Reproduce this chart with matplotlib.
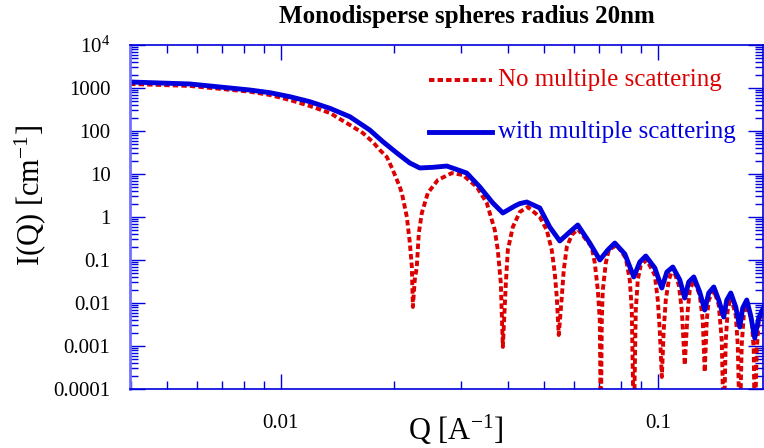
import matplotlib
matplotlib.use('Agg')
import matplotlib.pyplot as plt
from matplotlib.ticker import LogLocator, FixedLocator, FixedFormatter, NullFormatter

plt.rcParams['font.family'] = ['Liberation Serif', 'DejaVu Serif']
plt.rcParams['mathtext.fontset'] = 'custom'
plt.rcParams['mathtext.rm'] = 'Liberation Serif'
plt.rcParams['mathtext.it'] = 'Liberation Serif:italic'

# values
q_single = [0.00398, 0.00574, 0.00827, 0.00935, 0.01056, 0.01194, 0.01349, 0.01524, 0.01650, 0.01754,
            0.01831, 0.01911, 0.01982, 0.02068, 0.02094, 0.02159, 0.02199, 0.02226, 0.02240, 0.02266,
            0.02294, 0.02323, 0.02366, 0.02454, 0.02609, 0.02841, 0.03039, 0.03311, 0.03518, 0.03694,
            0.03763, 0.03833, 0.03881, 0.03953, 0.04001, 0.04125, 0.04305, 0.04519, 0.04864, 0.05075,
            0.05232, 0.05329, 0.05395, 0.05461, 0.05563, 0.05630, 0.05736, 0.05914, 0.06134, 0.06682,
            0.06806, 0.06932, 0.07017, 0.07061, 0.07104, 0.07147, 0.07280, 0.07413, 0.07784, 0.08224,
            0.08427, 0.08531, 0.08636, 0.08742, 0.08850, 0.09014, 0.09350, 0.09817, 0.1000, 0.1012,
            0.1025, 0.1037, 0.1050, 0.1070, 0.1096, 0.1137, 0.1158, 0.1179, 0.1201, 0.1216,
            0.1246, 0.1292, 0.1316, 0.1332, 0.1349, 0.1365, 0.1408, 0.1451, 0.1478, 0.1496,
            0.1515, 0.1533, 0.1562, 0.1610, 0.1630, 0.1650, 0.1670, 0.1691, 0.1722, 0.1775,
            0.1797, 0.1808, 0.1830, 0.1853, 0.1911]
I_single = [1239, 1114, 820, 687, 526, 381, 262, 138, 89.8, 55.4,
            36.1, 24.8, 12.4, 4.99, 3.61, 1.0, 0.248, 0.0687, 0.00808, 0.0343,
            0.0687, 0.425, 1.24, 3.61, 7.25, 10.5, 9.48, 4.99, 2.12, 0.499,
            0.171, 0.0292, 0.00095, 0.0292, 0.171, 0.585, 1.31, 1.71, 1.0, 0.499,
            0.171, 0.0499, 0.0138, 0.0018, 0.0138, 0.0585, 0.200, 0.381, 0.526, 0.200,
            0.0851, 0.02, 0.00403, 1e-5, 0.00403, 0.02, 0.0851, 0.171, 0.223, 0.111,
            0.0343, 0.00687, 1e-5, 0.00687, 0.0343, 0.0765, 0.1, 0.0448, 0.01175, 0.00236,
            0.00019, 0.00236, 0.01175, 0.0343, 0.0652, 0.0262, 0.00687, 0.000361, 0.00687, 0.02,
            0.0343, 0.0153, 0.00403, 0.000248, 0.00403, 0.01175, 0.02, 0.00898, 0.00138, 1e-5,
            0.00138, 0.00687, 0.0138, 0.00526, 0.00105, 1e-5, 0.00105, 0.00526, 0.00898, 0.00403,
            0.000807, 1e-5, 0.000807, 0.00403, 0.00618]

q_multi = [0.00398, 0.00574, 0.00827, 0.00935, 0.01056, 0.01194, 0.01349, 0.01524, 0.01722, 0.01865,
           0.02031, 0.02199, 0.02337, 0.02530, 0.02756, 0.02985, 0.03113, 0.03372, 0.03650, 0.03881,
           0.04175, 0.04305, 0.04493, 0.04864, 0.05168, 0.05495, 0.05841, 0.06134, 0.06601, 0.07017,
           0.07368, 0.07691, 0.08177, 0.08636, 0.08960, 0.09293, 0.0982, 0.1025, 0.1057, 0.1096,
           0.1144, 0.1179, 0.1208, 0.1246, 0.1292, 0.1332, 0.1365, 0.1408, 0.1451, 0.1496,
           0.1524, 0.1562, 0.1610, 0.1650, 0.1680, 0.1722, 0.1765, 0.1808, 0.1853, 0.1911]
I_multi = [1379, 1239, 898, 778, 628, 480, 337, 215, 105, 56.4,
           30.8, 18.0, 13.8, 14.3, 15.3, 12.0, 10.5, 4.99, 2.12, 1.24,
           1.80, 2.05, 2.23, 1.62, 0.585, 0.277, 0.448, 0.652, 0.248, 0.1,
           0.171, 0.248, 0.138, 0.0403, 0.0897, 0.124, 0.0652, 0.0223, 0.0525, 0.0687,
           0.0343, 0.01306, 0.0308, 0.0403, 0.018, 0.00687, 0.0171, 0.0236, 0.0117, 0.00472,
           0.0117, 0.0171, 0.00808, 0.00277, 0.00765, 0.01175, 0.00499, 0.00153, 0.00448, 0.00808]

ytick_vals = [1e-4, 1e-3, 1e-2, 1e-1, 1, 10, 100, 1000, 1e4]
ytick_labels = ['0.0001', '0.001', '0.01', '0.1', '1', '10', '100', '1000', '10$^4$']
xtick_vals = [0.01, 0.1]
xtick_labels = ['0.01', '0.1']

blue = '#0000dd'
red = '#dd0000'

fig = plt.figure(figsize=(7.64, 4.48), dpi=100)
ax = fig.add_axes([0.170, 0.1317, 0.8285, 0.7679])

ax.plot(q_single, I_single, color=red, lw=2.8, linestyle=(0, (1.4, 0.8)), solid_capstyle='butt')
ax.plot(q_multi, I_multi, color=blue, lw=3.5)

ax.set_xscale('log')
ax.set_yscale('log')
ax.set_xlim(0.003976, 0.19)
ax.set_ylim(1e-4, 1e4)

ax.yaxis.set_major_locator(FixedLocator(ytick_vals))
ax.yaxis.set_major_formatter(FixedFormatter(ytick_labels))
ax.yaxis.set_minor_locator(LogLocator(base=10, subs=range(2, 10), numticks=20))
ax.yaxis.set_minor_formatter(NullFormatter())
ax.xaxis.set_major_locator(FixedLocator(xtick_vals))
ax.xaxis.set_major_formatter(FixedFormatter(xtick_labels))
ax.xaxis.set_minor_locator(LogLocator(base=10, subs=range(2, 10), numticks=20))
ax.xaxis.set_minor_formatter(NullFormatter())

ax.tick_params(which='both', direction='in', top=True, right=True, colors=blue, labelcolor='black')
ax.tick_params(which='major', length=11, width=1)
ax.tick_params(which='minor', length=6, width=1)
ax.tick_params(axis='y', labelsize=15, pad=14)
ax.tick_params(axis='x', labelsize=15, pad=18)
for s in ax.spines.values():
    s.set_color(blue)
    s.set_linewidth(1.2)
ax.spines['left'].set_color('#7070ff')
ax.spines['left'].set_linewidth(2)

# legend drawn by hand
ax.plot([0.4724, 0.5719], [0.8983, 0.8983], transform=ax.transAxes, color=red, lw=2.8,
        linestyle=(0, (1.4, 0.8)))
ax.plot([0.4724, 0.5719], [0.7471, 0.7471], transform=ax.transAxes, color=blue, lw=3.5)
ax.text(0.5814, 0.8983, 'No multiple scattering', transform=ax.transAxes, color=red,
        fontsize=18, va='center', ha='left')
ax.text(0.5814, 0.7471, 'with multiple scattering', transform=ax.transAxes, color=blue,
        fontsize=18, va='center', ha='left')

fig.text(467 / 764, 1 - 17 / 448, 'Monodisperse spheres radius 20nm', fontsize=18,
         fontweight='bold', ha='center', va='center')
fig.text(30 / 764, 1 - 195 / 448, 'I(Q) [cm$^{-1}$]', fontsize=22, rotation=90,
         ha='center', va='center')
fig.text(456 / 764, 1 - 430 / 448, 'Q [A$^{-1}$]', fontsize=22, ha='center', va='center')

fig.savefig('out.png', dpi=100)
